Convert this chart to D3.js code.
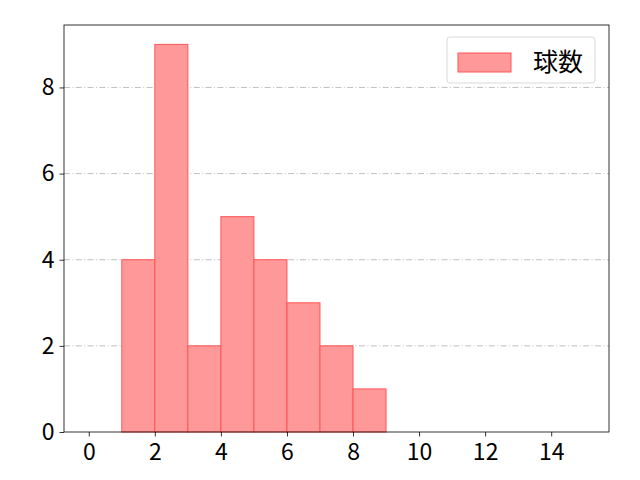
<!DOCTYPE html>
<html>
<head>
<meta charset="utf-8">
<script src="https://cdn.jsdelivr.net/npm/d3@7"></script>
<style>
  body { margin: 0; background: #fff; }
  text { font-family: "Noto Sans CJK JP", "DejaVu Sans", sans-serif; }
</style>
</head>
<body>
<div id="chart"></div>
<script>
// histogram bins (left edge, right edge) and counts
const binStarts = [1, 2, 3, 4, 5, 6, 7, 8];
const binEnds = [2, 3, 4, 5, 6, 7, 8, 9];
const counts = [4, 9, 2, 5, 4, 3, 2, 1];
const xTicks = [0, 2, 4, 6, 8, 10, 12, 14];
const yTicks = [0, 2, 4, 6, 8];
const seriesName = "球数";

const width = 640, height = 480;
const margin = { top: 25, right: 31, bottom: 48, left: 64 };
const innerW = width - margin.left - margin.right;
const innerH = height - margin.top - margin.bottom;

const svg = d3.select("#chart")
    .append("svg")
    .attr("width", width)
    .attr("height", height);

const g = svg.append("g")
    .attr("transform", `translate(${margin.left}, ${margin.top})`);

const x = d3.scaleLinear().domain([-0.75, 15.75]).range([0, innerW]);
const y = d3.scaleLinear().domain([0, 9.45]).range([innerH, 0]);

// horizontal grid (dash-dot)
g.selectAll(".grid")
    .data(yTicks.filter(d => d > 0))
    .join("line")
    .attr("class", "grid")
    .attr("x1", 0)
    .attr("x2", innerW)
    .attr("y1", d => y(d))
    .attr("y2", d => y(d))
    .style("stroke", "#b0b0b0")
    .style("stroke-width", 0.8)
    .style("stroke-dasharray", "6,2.4,1,2.4");

// bars
const bins = counts.map((c, i) => ({ x0: binStarts[i], x1: binEnds[i], n: c }));
g.selectAll(".bar")
    .data(bins)
    .join("rect")
    .attr("class", "bar")
    .attr("x", d => x(d.x0))
    .attr("width", d => x(d.x1) - x(d.x0))
    .attr("y", d => y(d.n))
    .attr("height", d => y(0) - y(d.n))
    .style("fill", "#ff9999")
    .style("stroke", "#f55")
    .style("stroke-width", 1);

// axes
const xAxis = g.append("g")
    .attr("transform", `translate(0, ${innerH})`)
    .call(d3.axisBottom(x).tickValues(xTicks).tickSize(4.5).tickPadding(7).tickFormat(d3.format("d")));
const yAxis = g.append("g")
    .call(d3.axisLeft(y).tickValues(yTicks).tickSize(4.5).tickPadding(5).tickFormat(d3.format("d")));
[xAxis, yAxis].forEach(a => {
    a.select(".domain").remove();
    a.attr("font-size", null).attr("font-family", null);
    a.selectAll("text")
        .style("font-size", "23px")
        .style("fill", "#000");
    a.selectAll("line").style("stroke", "#000").style("stroke-width", 0.8);
});

// frame
g.append("rect")
    .attr("width", innerW)
    .attr("height", innerH)
    .style("fill", "none")
    .style("stroke", "#000")
    .style("stroke-width", 0.8);

// legend
const lg = g.append("g").attr("transform", `translate(${innerW - 162}, 12)`);
lg.append("rect")
    .attr("width", 148)
    .attr("height", 46)
    .attr("rx", 3)
    .style("fill", "#fff")
    .style("fill-opacity", 0.8)
    .style("stroke", "#d9d9d9")
    .style("stroke-width", 1);
lg.append("rect")
    .attr("x", 11)
    .attr("y", 16)
    .attr("width", 53)
    .attr("height", 19)
    .style("fill", "#ff9999")
    .style("stroke", "#f55")
    .style("stroke-width", 1);
lg.append("text")
    .attr("x", 86)
    .attr("y", 25)
    .attr("dy", "0.35em")
    .style("font-size", "25px")
    .text(seriesName);
</script>
</body>
</html>
